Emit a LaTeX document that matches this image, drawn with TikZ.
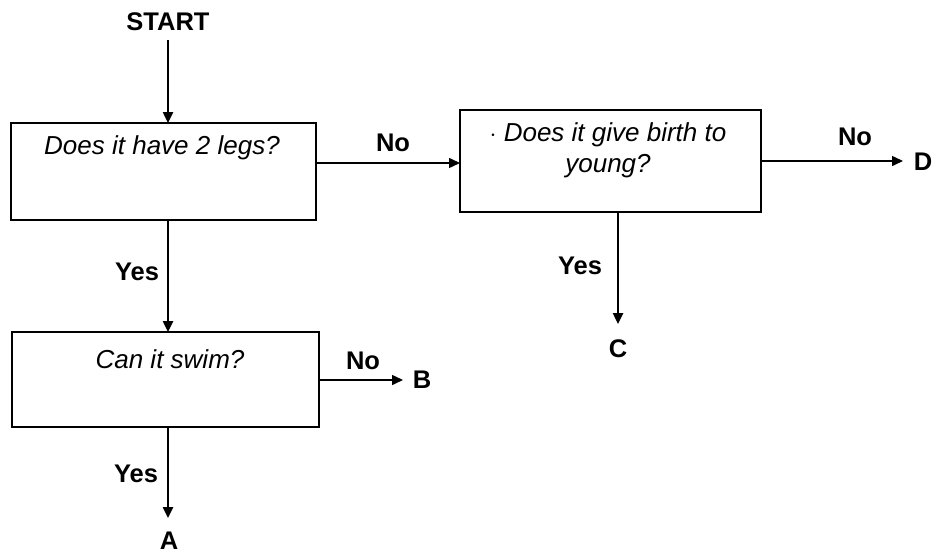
\documentclass[tikz,border=0pt]{standalone}
\usepackage{fontspec}
\setmainfont{Liberation Sans}
\usetikzlibrary{arrows.meta}
\begin{document}
\begin{tikzpicture}[x=1pt,y=-1pt,
  box/.style={draw,line width=2pt},
  lbl/.style={font=\fontsize{25.5}{30}\selectfont\bfseries,inner sep=0pt},
  qtxt/.style={font=\fontsize{26}{31}\selectfont\itshape,inner sep=0pt,align=center},
  arr/.style={line width=2.4pt,-{Triangle[length=11pt,width=10pt]}},
  thin/.style={line width=1.5pt,-{Triangle[length=11pt,width=10pt]}}]
\useasboundingbox (0,0) rectangle (940,557);
% boxes
\draw[box] (11,123) rectangle (316,220);
\draw[box] (460,110) rectangle (761,212);
\draw[box] (12,332) rectangle (319,427);
\node[coordinate] (b1n) at (168,123) {};
\node[coordinate] (b1s) at (168,220) {};
\node[coordinate] (b1e) at (316,163) {};
\node[coordinate] (b2w) at (460,163) {};
\node[coordinate] (b2e) at (761,161) {};
\node[coordinate] (b2s) at (618,212) {};
\node[coordinate] (b3n) at (168,332) {};
\node[coordinate] (b3s) at (168,427) {};
\node[coordinate] (b3e) at (319,380) {};
% texts
\node[qtxt] (q1) at (162,148) {Does it have 2 legs?};
\node[qtxt] (q2) at (608,150) {$\cdot$ Does it give birth to\\young?};
\node[qtxt] (q3) at (170,359) {Can it swim?};
\node[lbl] (start) at (168,22) {START};
\node[lbl] (A) at (169,541) {A};
\node[lbl] (B) at (422,380) {B};
\node[lbl] (C) at (618,349) {C};
\node[lbl] (D) at (923,162) {D};
\node[lbl] at (393,143) {No};
\node[lbl] at (855,137) {No};
\node[lbl] at (363,361) {No};
\node[lbl] at (137,272) {Yes};
\node[lbl] at (580,266) {Yes};
\node[lbl] at (136,474) {Yes};
% connectors
\coordinate (s0) at (168,40);
\draw[arr] (s0) -- (b1n);
\draw[thin] (b1e) -- (b2w);
\draw[arr] (b1s) -- (b3n);
\coordinate (dend) at (903,161);
\draw[thin] (b2e) -- (dend);
\coordinate (cend) at (618,324);
\draw[arr] (b2s) -- (cend);
\coordinate (bend) at (403,380);
\draw[thin] (b3e) -- (bend);
\coordinate (aend) at (168,518);
\draw[arr] (b3s) -- (aend);
\end{tikzpicture}
\end{document}
